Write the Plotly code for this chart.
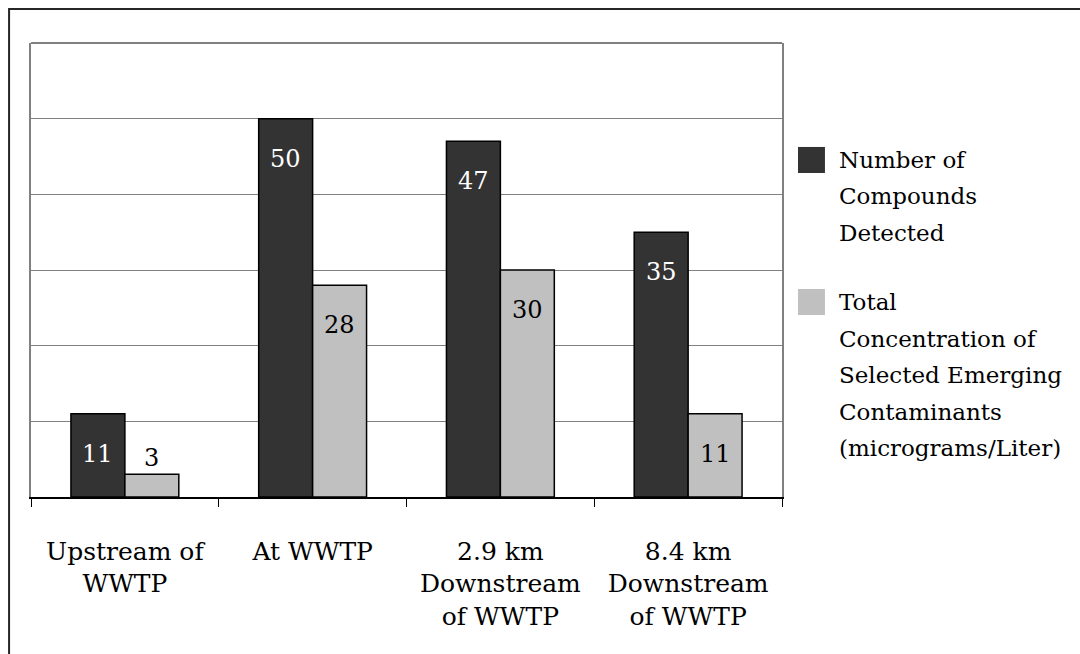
import plotly.graph_objects as go

# Sampling sites along the river
sites = [
    "Upstream of<br>WWTP",
    "At WWTP",
    "2.9 km<br>Downstream<br>of WWTP",
    "8.4 km<br>Downstream<br>of WWTP",
]

# Series values per site
compounds_detected = [11, 50, 47, 35]
total_concentration = [3, 28, 30, 11]

series_names = [
    ["Number of", "Compounds", "Detected"],
    ["Total", "Concentration of", "Selected Emerging", "Contaminants", "(micrograms/Liter)"],
]
series_colors = ["#333333", "#c0c0c0"]
label_colors = ["#ffffff", "#000000"]

FONT = "DejaVu Serif"
BARGAP = 0.4255

fig = go.Figure()
for vals, name, color in zip([compounds_detected, total_concentration], series_names, series_colors):
    fig.add_trace(go.Bar(
        x=sites, y=vals, name=" ".join(name),
        marker=dict(color=color, line=dict(color="#000000", width=1.5)),
        showlegend=False, hoverinfo="skip",
    ))

# Value labels placed near the top of each bar (above it when the bar is short)
bar_w = (1 - BARGAP) / 2
for s, (vals, fcol) in enumerate(zip([compounds_detected, total_concentration], label_colors)):
    offset = (s - 0.5) * bar_w
    for i, v in enumerate(vals):
        inside = v >= 8
        fig.add_annotation(
            x=i + offset, y=v, xref="x", yref="y",
            text=str(v), showarrow=False,
            yanchor="middle", yshift=-40 if inside else 16,
            font=dict(family=FONT, size=24, color=fcol if inside else "#000000"),
        )

# Hand-built legend with large square swatches, one text line per annotation
PLOT_H = 454
line_pitch = 36.5 / PLOT_H
legend_rows = [(0.771, 0.7137, 0.7426), (0.4581, 0.4009, 0.4295)]
for (y_top, y_bot, y_first), lines, color in zip(legend_rows, series_names, series_colors):
    fig.add_shape(type="rect", xref="paper", yref="paper",
                  x0=1.0213, x1=1.0572, y0=y_bot, y1=y_top,
                  fillcolor=color, line=dict(width=0))
    for k, line in enumerate(lines):
        fig.add_annotation(xref="paper", yref="paper", x=1.0731, y=y_first - k * line_pitch,
                           xanchor="left", yanchor="middle", align="left",
                           text=line, showarrow=False,
                           font=dict(family=FONT, size=23, color="#000000"))

# Outer chart border and top edge of the plot area
fig.add_shape(type="rect", xref="paper", yref="paper",
              x0=-0.0292, x1=1.45, y0=-0.5, y1=1.0749,
              line=dict(color="#262626", width=2), fillcolor="rgba(0,0,0,0)")
fig.add_shape(type="line", xref="paper", yref="paper",
              x0=0, x1=1, y0=1, y1=1, line=dict(color="#808080", width=2))

fig.update_layout(
    width=1080, height=654,
    margin=dict(l=31, r=298, t=43, b=157, autoexpand=False),
    paper_bgcolor="#ffffff", plot_bgcolor="#ffffff",
    barmode="group", bargap=BARGAP, bargroupgap=0,
    font=dict(family=FONT, size=25, color="#000000"),
)
fig.update_xaxes(
    type="category", showgrid=False, automargin=False, tickangle=0,
    showline=True, linecolor="#000000", linewidth=1.5,
    ticks="outside", tickson="boundaries", ticklen=8, tickcolor="#000000", tickwidth=1.3,
    tickfont=dict(family=FONT, size=25, color="#000000"),
    ticklabelstandoff=31,
)
fig.update_yaxes(
    range=[0, 60], dtick=10, showticklabels=False, ticks="", automargin=False,
    showgrid=True, gridcolor="#808080", gridwidth=1.3,
    showline=True, linecolor="#808080", linewidth=2, mirror=True,
    zeroline=False,
)

fig.write_html("out.html")
